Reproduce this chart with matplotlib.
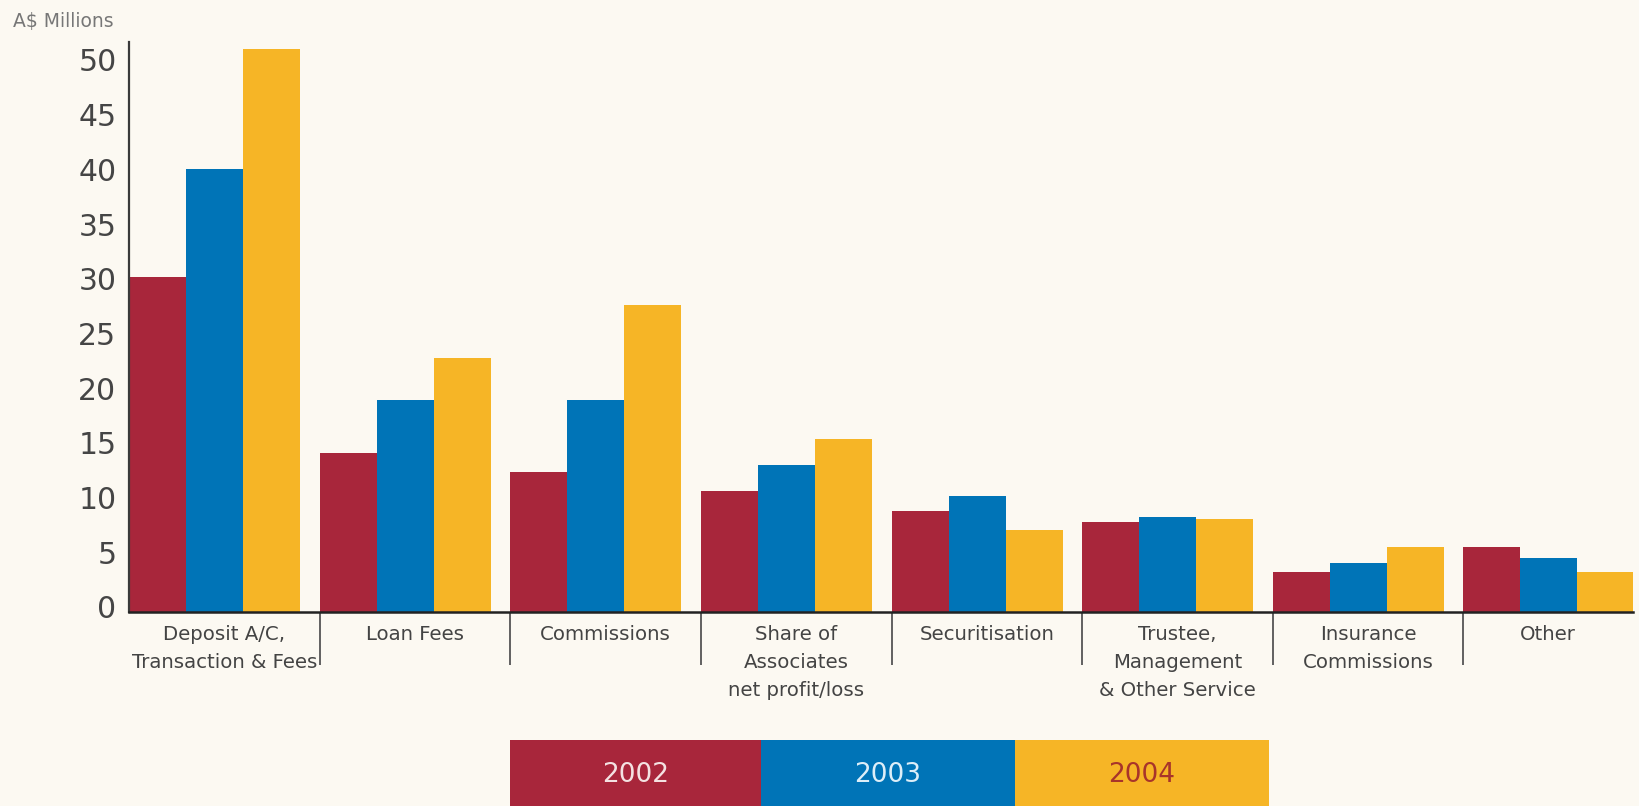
import matplotlib.pyplot as plt
from matplotlib.patches import Rectangle
from matplotlib.transforms import ScaledTranslation
import numpy as np

# fee income by category, A$ millions
categories = ["Deposit A/C,\nTransaction & Fees", "Loan Fees", "Commissions",
              "Share of\nAssociates\nnet profit/loss", "Securitisation",
              "Trustee,\nManagement\n& Other Service", "Insurance\nCommissions", "Other"]
years = ["2002", "2003", "2004"]
fees_2002 = [30.6, 14.5, 12.8, 11.1, 9.2, 8.2, 3.7, 5.9]
fees_2003 = [40.5, 19.4, 19.4, 13.4, 10.6, 8.7, 4.5, 4.9]
fees_2004 = [51.5, 23.2, 28.1, 15.8, 7.5, 8.5, 5.9, 3.7]
yticks = [0, 5, 10, 15, 20, 25, 30, 35, 40, 45, 50]

colors = ["#A8263B", "#0074B7", "#F6B526"]
text_cols = ["#F4E2E2", "#DDEEF8", "#A8342A"]
bg = "#FCF9F2"

W, H = 1639, 806
fig = plt.figure(figsize=(W / 100, H / 100), dpi=100, facecolor=bg)
ax = fig.add_axes([129 / W, (H - 612) / H, 1504 / W, 570 / H])
ax.set_facecolor(bg)

pitch = 3.345   # group spacing in bar widths
xmax = 26.39
starts = np.arange(len(categories)) * pitch

for j, vals in enumerate([fees_2002, fees_2003, fees_2004]):
    ax.bar(starts + j + 0.5, vals, width=1.0, color=colors[j], linewidth=0)

ax.set_xlim(0, xmax)
ax.set_ylim(0, 52.1)

for s in ["top", "right"]:
    ax.spines[s].set_visible(False)
ax.spines["left"].set_color("#3a3a3a")
ax.spines["left"].set_linewidth(1.6)
ax.spines["bottom"].set_color("#222222")
ax.spines["bottom"].set_linewidth(1.8)

ax.set_yticks(yticks)
ax.set_yticklabels([str(v) for v in yticks], fontsize=21.5, color="#454545")
ax.tick_params(axis="y", length=0, pad=9)
# nudge the value labels up a little
lift = ScaledTranslation(0, 5 / 100, fig.dpi_scale_trans)
for lab in ax.get_yticklabels():
    lab.set_transform(lab.get_transform() + lift)

mids = np.append(starts[:-1] + pitch / 2, (starts[-1] + xmax) / 2)
ax.set_xticks(mids)
ax.set_xticklabels(categories, fontsize=14.2, color="#444444", linespacing=1.6)
ax.tick_params(axis="x", which="major", length=0, pad=9)
# separator lines between groups
ax.set_xticks(starts[1:], minor=True)
ax.tick_params(axis="x", which="minor", length=38, width=1.3, color="#555555",
               direction="out")

fig.text(13 / W, 1 - 21 / H, "A$ Millions", fontsize=13.5, color="#777777",
         ha="left", va="center")

# legend strip along the bottom
edges = [510, 761, 1015, 1269]
for j, yr in enumerate(years):
    x0, x1 = edges[j] / W, edges[j + 1] / W
    fig.add_artist(Rectangle((x0, 0), x1 - x0, 66 / H, transform=fig.transFigure,
                             color=colors[j], linewidth=0))
    fig.text((x0 + x1) / 2, 31 / H, yr, fontsize=19, color=text_cols[j],
             ha="center", va="center")

fig.savefig("out.png", dpi=100, facecolor=bg)
